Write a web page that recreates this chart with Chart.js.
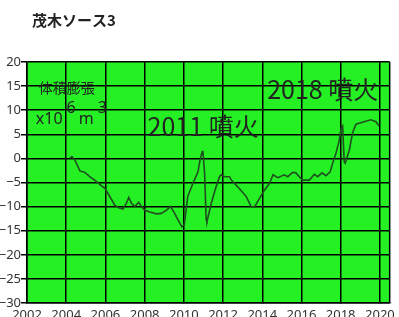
<!DOCTYPE html>
<html>
<head>
<meta charset="utf-8">
<script src="https://cdn.jsdelivr.net/npm/chart.js@4/dist/chart.umd.min.js"></script>
<style>
  html, body { margin: 0; padding: 0; background: #fff; }
  #wrap { width: 399px; height: 317px; }
</style>
</head>
<body>
<div id="wrap"><canvas id="volChart" width="399" height="317"></canvas></div>
<script>
const TITLE = '茂木ソース3';

// decimal year vs. volume change (x10^6 m^3)
const YEARS = [
  2004.19, 2004.29, 2004.44, 2004.70, 2004.95, 2005.20, 2005.55, 2005.80, 2005.97,
  2006.22, 2006.48, 2006.65, 2006.90, 2007.07, 2007.19, 2007.33, 2007.50, 2007.70,
  2007.84, 2008.00, 2008.26, 2008.60, 2008.85, 2009.10, 2009.33, 2009.53, 2009.75,
  2009.90, 2010.02, 2010.10, 2010.20, 2010.46, 2010.72, 2010.84, 2010.94, 2010.97,
  2011.06, 2011.14, 2011.18, 2011.40, 2011.62, 2011.82, 2011.90, 2012.08, 2012.33,
  2012.42, 2012.75, 2013.18, 2013.43, 2013.60, 2013.86, 2014.11, 2014.37, 2014.55,
  2014.79, 2015.13, 2015.30, 2015.55, 2015.72, 2015.93, 2016.06, 2016.40, 2016.66,
  2016.83, 2017.05, 2017.25, 2017.46, 2017.59, 2017.76, 2017.93, 2018.02, 2018.10,
  2018.18, 2018.23, 2018.44, 2018.60, 2018.78, 2019.11, 2019.54, 2019.80, 2019.96
];
const VOLUME = [
  0.0, 0.35, -0.3, -2.6, -2.9, -3.8, -4.8, -5.7, -6.2,
  -7.9, -9.7, -10.2, -10.5, -9.3, -8.1, -9.3, -10.0, -9.1,
  -10.0, -10.7, -11.1, -11.5, -11.4, -10.8, -10.0, -11.4, -13.1,
  -14.2, -13.8, -11.2, -7.9, -5.2, -2.8, 0.0, 1.4, 1.6,
  -3.1, -12.8, -13.1, -9.3, -6.2, -3.8, -3.4, -3.8, -3.8,
  -4.5, -5.9, -7.9, -10.0, -10.1, -8.3, -6.6, -5.2, -3.4,
  -4.0, -3.4, -3.8, -2.9, -3.0, -4.0, -4.5, -4.5, -3.3,
  -3.8, -3.0, -3.6, -2.8, -1.0, 1.05, 3.8, 6.2, 6.7,
  -0.7, -1.0, 1.7, 5.2, 7.1, 7.5, 8.0, 7.6, 6.7
];

const X_TICKS = [2002, 2004, 2006, 2008, 2010, 2012, 2014, 2016, 2018, 2020];
const Y_TICKS = [20, 15, 10, 5, 0, -5, -10, -15, -20, -25, -30];

const PLOT_GREEN = '#24f024';
const LINE_COLOR = '#1f4f1f';
const INK = '#222';
const JP = '"Noto Sans CJK JP", "Noto Sans", sans-serif';

// text notes placed in data units
const NOTES = [
  { text: '2011 噴火', x: 2008.15, y: 6.6, size: 25 },
  { text: '2018 噴火', x: 2014.25, y: 14.3, size: 25 },
  { text: '体積膨張', x: 2002.6, y: 14.7, size: 14 }
];

const points = YEARS.map((yr, i) => ({ x: yr, y: VOLUME[i] }));

const decor = {
  id: 'decor',
  beforeDraw(chart) {
    const { ctx, chartArea: a } = chart;
    ctx.save();
    ctx.fillStyle = PLOT_GREEN;
    ctx.fillRect(a.left, a.top, a.right - a.left, a.bottom - a.top);
    ctx.restore();
  },
  afterDraw(chart) {
    const { ctx, chartArea: a } = chart;
    const xs = chart.scales.x, ys = chart.scales.y;
    ctx.save();
    // right frame edge
    ctx.strokeStyle = '#000';
    ctx.lineWidth = 1.5;
    ctx.beginPath();
    ctx.moveTo(a.right, a.top);
    ctx.lineTo(a.right, a.bottom);
    ctx.stroke();

    // title
    ctx.fillStyle = INK;
    ctx.textBaseline = 'middle';
    ctx.textAlign = 'left';
    ctx.font = 'bold 15px ' + JP;
    ctx.fillText(TITLE, 32, 20);

    // notes
    NOTES.forEach(n => {
      ctx.font = n.size + 'px ' + JP;
      ctx.fillText(n.text, xs.getPixelForValue(n.x), ys.getPixelForValue(n.y));
    });

    // unit: x10^6 m^3
    ctx.textBaseline = 'alphabetic';
    ctx.font = '16px "Noto Sans", sans-serif';
    let px = xs.getPixelForValue(2002.45);
    const base = ys.getPixelForValue(7.1);
    const parts = [['x10', 0, 4], ['6', -11, 3], ['m', 0, 4], ['3', -11, 0]];
    parts.forEach(([t, dy, gap]) => {
      ctx.fillText(t, px, base + dy);
      px += ctx.measureText(t).width + gap;
    });
    ctx.restore();
  }
};

new Chart(document.getElementById('volChart'), {
  type: 'line',
  data: {
    datasets: [{
      data: points,
      borderColor: LINE_COLOR,
      borderWidth: 1.6,
      pointRadius: 0,
      tension: 0,
      fill: false
    }]
  },
  options: {
    responsive: false,
    animation: false,
    layout: { padding: { top: 62, right: 9, left: 0, bottom: 0 } },
    plugins: {
      legend: { display: false },
      tooltip: { enabled: false },
      title: { display: false }
    },
    scales: {
      x: {
        type: 'linear',
        min: 2002,
        max: 2020.5,
        afterBuildTicks: s => { s.ticks = X_TICKS.map(v => ({ value: v })); },
        afterFit: s => { s.height = 14; },
        grid: { color: '#000', lineWidth: 1.5, tickLength: 0 },
        border: { color: '#000', width: 1.5 },
        ticks: {
          padding: 4,
          maxRotation: 0,
          autoSkip: false,
          color: '#333',
          font: { family: '"Noto Sans", sans-serif', size: 13 },
          callback: v => String(v)
        }
      },
      y: {
        min: -30,
        max: 20,
        afterBuildTicks: s => { s.ticks = Y_TICKS.map(v => ({ value: v })); },
        afterFit: s => { s.width = 27; },
        grid: { color: '#000', lineWidth: 1.5, tickLength: 6 },
        border: { color: '#000', width: 1.5 },
        ticks: {
          padding: 0,
          color: '#333',
          font: { family: '"Noto Sans", sans-serif', size: 13 },
          callback: v => String(v).replace('-', '\u2212')
        }
      }
    }
  },
  plugins: [decor]
});
</script>
</body>
</html>
